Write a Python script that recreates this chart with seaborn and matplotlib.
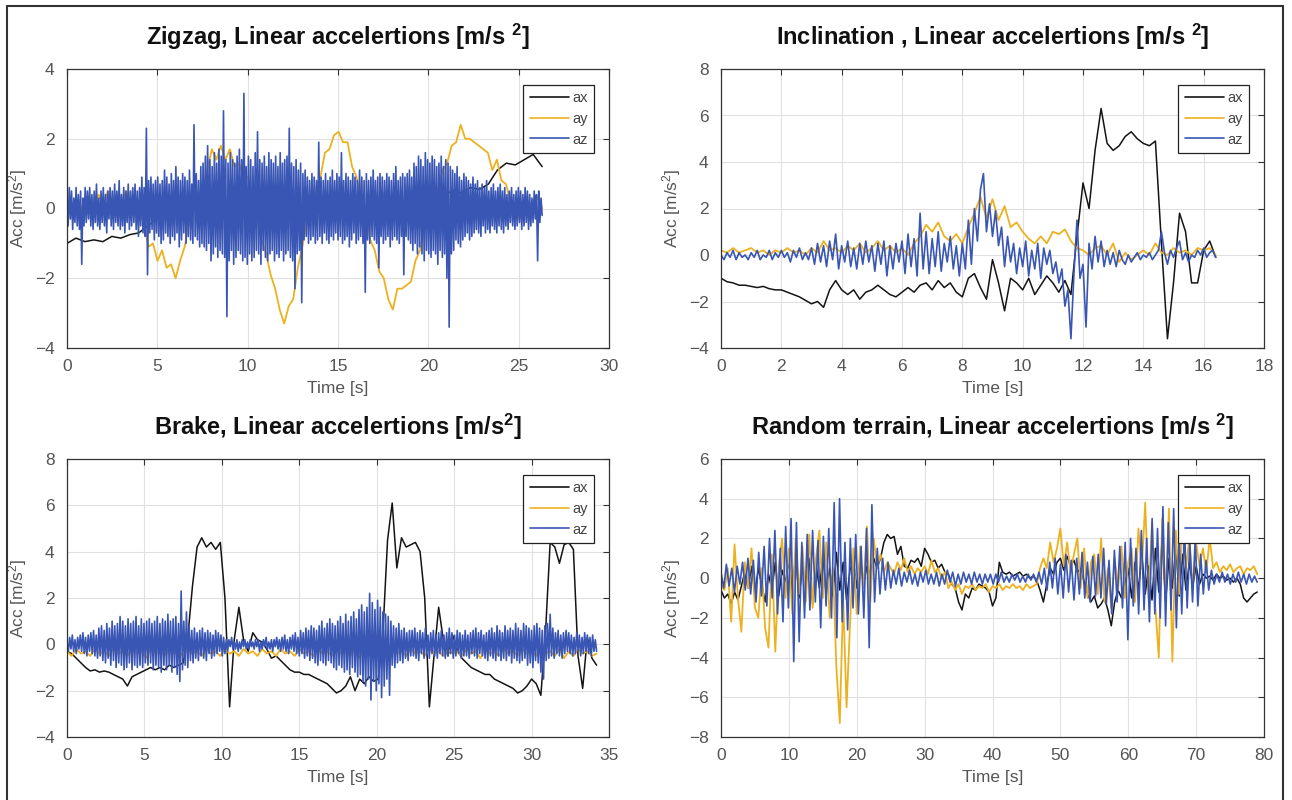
import numpy as np
import pandas as pd
import matplotlib
matplotlib.use('Agg')
import matplotlib.pyplot as plt
from matplotlib.lines import Line2D
import seaborn as sns

sns.set_style('white')
plt.rcParams['font.family'] = ['Liberation Sans', 'DejaVu Sans']
plt.rcParams['mathtext.default'] = 'regular'

# ---------------- Zigzag (0 - 26.3 s)
zig_T = 26.3
zig_ax = [-1.0, -0.85, -0.95, -0.9, -0.95, -0.8, -0.85, -0.75, -0.7, -0.5,
          -0.3, -0.25, -0.2, -0.1, -0.1, 0.0, 0.0, 0.1, 0.0, 0.1,
          0.0, 0.0, 0.1, 0.0, -0.1, 0.0, 0.1, 0.0, 0.0, 0.1,
          0.0, 0.0, -0.1, 0.0, 0.1, 0.0, 0.0, 0.1, 0.0, 0.1,
          0.2, 0.3, 0.4, 0.5, 0.45, 0.6, 0.55, 0.7, 1.1, 1.3,
          1.25, 1.4, 1.55, 1.2]
zig_ay = [0.2, 0.0, 0.3, -0.1, 0.3, 0.0, 0.2, 0.4,
          0.0, 0.5, 0.0, 0.4, 0.1, 0.5, 0.0, 0.3,
          -0.2, -0.4, -1.1, -1.0, -1.5, -1.2, -1.7, -1.6,
          -2.0, -1.5, -1.1, -0.4, -0.1, 0.4, 0.4, 1.1,
          1.7, 1.4, 1.8, 1.4, 1.7, 1.2, 1.3, 0.9,
          0.9, 0.2, -0.1, -0.9, -1.3, -1.9, -2.3, -2.9,
          -3.3, -2.8, -2.6, -1.7, -1.1, -0.4, -0.1, 0.6,
          0.9, 1.6, 1.7, 2.1, 2.2, 1.9, 1.9, 1.2,
          0.9, 0.2, -0.1, -0.9, -1.2, -1.8, -2.0, -2.6,
          -2.9, -2.3, -2.3, -2.2, -2.1, -1.5, -1.2, -0.4,
          -0.1, 0.5, 0.5, 1.1, 1.3, 1.8, 1.9, 2.4,
          2.0, 2.0, 1.9, 1.8, 1.7, 1.6, 1.1, 1.4,
          0.8, 0.7, 0.2, 0.1, -0.3, 0.0, 0.1, 0.1,
          0.3, 0.0]
zig_az = [0.4, -0.5, 0.6, -0.3, 0.5, -0.6, 0.3, -0.4, 0.6, -0.5, 0.4, -0.6, 0.5, -1.6, 0.3, -0.5, 0.6, -0.4, 0.5, -0.3,
          0.6, -0.5, 0.4, -0.6, 0.5, -0.4, 0.7, -0.5, 0.3, -0.6, 0.5, -0.4, 0.6, -0.5, 0.4, -0.7, 0.5, -0.3, 0.6, -0.5,
          0.5, -0.6, 0.7, -0.4, 0.5, -0.5, 0.8, -0.6, 0.4, -0.5, 0.6, -0.7, 0.5, -0.4, 0.7, -0.6, 0.5, -0.5, 0.6, -0.4,
          0.7, -0.6, 0.5, -0.8, 0.6, -0.5, 0.9, -0.7, 0.6, -0.8, 2.3, -1.9, 0.8, -0.7, 0.9, -0.6, 0.7, -0.9, 0.8, -0.7,
          0.9, -0.8, 0.7, -1.0, 0.8, -0.9, 1.1, -0.7, 0.9, -0.8, 0.7, -1.0, 1.0, -0.8, 0.8, -0.9, 1.2, -0.7, 0.9, -1.1,
          0.8, -0.9, 1.0, -0.7, 0.9, -1.0, 0.8, -0.8, 1.1, -0.9, 0.7, -1.0, 2.4, -0.8, 1.0, -0.9, 0.8, -1.1, 1.2, -1.0,
          1.3, -1.1, 1.5, -1.2, 1.8, -1.0, 1.4, -1.5, 1.2, -1.3, 1.6, -1.1, 1.3, -1.4, 1.7, -1.2, 1.5, -1.3, 2.8, -1.4,
          1.4, -3.1, 1.3, -1.5, 1.6, -1.2, 1.4, -1.6, 1.3, -1.4, 1.5, -1.2, 1.7, -1.3, 1.4, -1.5, 3.3, -1.4, 1.2, -1.6,
          1.5, -1.3, 1.4, -1.5, 1.2, -1.4, 1.6, -1.2, 2.2, -1.3, 1.4, -1.6, 1.3, -1.2, 1.5, -1.4, 1.2, -1.5, 1.6, -1.3,
          1.4, -1.2, 1.3, -1.5, 1.5, -1.3, 1.2, -1.4, 1.6, -1.2, 1.3, -1.5, 1.4, -1.3, 1.5, -1.2, 2.3, -1.4, 1.3, -1.5,
          1.2, -2.3, 1.4, -1.3, 1.1, -1.2, 1.3, -2.7, 1.0, -0.9, 1.1, -0.8, 0.9, -1.0, 0.8, -0.9, 1.0, -0.8, 0.9, -1.0,
          0.8, -0.9, 1.9, -0.8, 0.9, -1.0, 0.8, -0.7, 1.0, -0.9, 0.8, -1.0, 0.9, -0.8, 1.1, -0.9, 0.8, -0.7, 1.0, -0.9,
          0.9, -0.8, 1.6, -1.0, 0.8, -0.9, 1.0, -0.8, 0.9, -1.1, 0.8, -0.9, 1.0, -0.7, 0.9, -1.0, 0.8, -0.9, 1.1, -0.8,
          0.9, -1.0, 0.8, -2.4, 1.0, -0.9, 0.8, -1.0, 0.9, -0.8, 1.1, -0.9, 0.8, -1.0, 0.9, -1.7, 1.0, -0.8, 0.9, -1.0,
          0.8, -0.9, 1.0, -0.8, 0.9, -1.1, 0.8, -0.9, 1.0, -0.8, 1.2, -0.9, 0.8, -1.0, 0.9, -0.8, 1.0, -1.9, 0.9, -0.8,
          1.0, -0.9, 1.1, -1.0, 0.9, -1.2, 1.3, -1.0, 1.2, -1.3, 1.5, -1.1, 1.4, -1.3, 1.2, -1.5, 1.6, -1.2, 1.4, -1.3,
          1.3, -1.4, 1.5, -1.2, 1.4, -1.3, 1.2, -1.6, 1.3, -1.2, 1.5, -1.4, 1.2, -1.3, 1.4, -2.0, 1.3, -3.4, 1.2, -1.3,
          1.1, -1.2, 1.0, -0.9, 1.2, -1.0, 0.9, -1.1, 0.8, -0.9, 1.0, -0.8, 0.9, -0.7, 0.8, -0.9, 0.7, -0.8, 0.9, -0.7,
          0.7, -0.6, 0.8, -0.7, 0.6, -0.8, 0.7, -0.5, 0.6, -0.7, 0.8, -0.6, 0.5, -0.7, 0.6, -0.5, 0.7, -0.6, 0.5, -0.7,
          0.6, -0.5, 0.7, -0.6, 0.5, -0.7, 0.6, -0.5, 0.4, -0.6, 0.5, -0.4, 0.6, -0.5, 0.4, -0.6, 0.5, -0.5, 0.6, -0.4,
          0.5, -0.6, 0.4, -0.5, 0.6, -0.4, 0.5, -0.6, 0.4, -0.5, 0.3, -0.4, 0.5, -0.3, 0.4, -1.5, 0.5, -0.4, 0.3, -0.2]

# ---------------- Inclination (0 - 16.4 s)
inc_T = 16.4
inc_ax = [-1.0, -1.15, -1.2, -1.3, -1.3, -1.35, -1.4, -1.35, -1.45, -1.5,
          -1.5, -1.6, -1.7, -1.8, -1.95, -2.1, -2.0, -2.25, -1.5, -1.1,
          -1.5, -1.7, -1.5, -1.9, -1.6, -1.5, -1.3, -1.5, -1.7, -1.8,
          -1.6, -1.4, -1.6, -1.3, -1.2, -1.5, -1.1, -1.4, -1.2, -1.6,
          -1.8, -1.0, -0.8, -1.4, -1.9, -0.2, -1.2, -2.4, -1.0, -1.2,
          -1.5, -1.0, -1.7, -1.3, -0.9, -1.2, -1.6, -1.1, -1.7, 0.8,
          3.1, 2.0, 4.5, 6.3, 4.8, 4.5, 4.7, 5.1, 5.3, 5.0,
          4.8, 4.7, 4.9, 0.5, -3.6, -1.2, 1.8, 1.0, -1.2, -1.2,
          0.2, 0.6, -0.1]
inc_ay = [0.2, 0.1, 0.3, 0.1, 0.2, 0.3, 0.1, 0.2, 0.0, 0.2,
          0.1, 0.3, 0.1, 0.2, 0.0, 0.3, 0.1, 0.6, 0.2, 0.3,
          0.1, 0.4, 0.2, 0.5, 0.1, 0.3, 0.6, 0.2, 0.4, 0.1,
          0.3, 0.0, 0.5, 0.8, 1.3, 1.0, 1.4, 0.8, 0.6, 0.9,
          0.5, 1.2, 1.8, 2.5, 1.6, 2.4, 1.5, 2.1, 1.2, 1.4,
          1.0, 0.7, 0.5, 0.8, 0.5, 1.0, 0.9, 1.1, 0.6, 0.3,
          0.2, 0.0, 0.3, 0.4, 0.0, 0.5, -0.3, 0.1, -0.2, 0.0,
          0.2, 0.0, 0.5, 0.1, 0.0, 0.3, 0.1, 0.2, 0.0, 0.3,
          0.2, 0.3, 0.0]
inc_az = [0.0, -0.2, 0.1, -0.1, 0.2, -0.2, 0.1, -0.1, 0.0, -0.2,
          0.1, -0.1, 0.2, -0.2, 0.0, -0.1, 0.2, -0.2, 0.1, -0.1,
          0.2, -0.1, 0.1, -0.3, 0.2, -0.1, 0.3, -0.2, 0.1, -0.2,
          0.3, -0.4, 0.5, -0.3, 0.4, -0.5, 0.6, -0.2, 0.9, -0.6,
          0.4, -0.3, 0.6, -0.5, 0.3, -0.6, 0.5, -0.4, 0.6, -0.3,
          0.4, -0.7, 0.5, -0.4, 0.6, -0.9, 0.4, -0.6, 0.5, -0.3,
          0.6, -0.8, 0.9, -0.5, 0.7, -0.9, 1.8, -0.6, 1.0, -0.8,
          0.7, -0.5, 1.0, -0.7, 0.5, -0.3, 0.8, -0.6, 0.4, -0.9,
          0.5, -0.6, 1.5, -0.4, 2.0, 0.6, 2.8, 3.5, 1.0, 2.2,
          0.8, 1.9, 0.4, 1.2, -0.5, 0.8, -0.3, 0.5, -0.8, 0.3,
          -0.5, 0.6, -0.9, 0.2, -0.6, 0.5, -1.0, 0.3, -0.4, 0.2,
          -0.8, -0.3, -1.2, -0.6, -2.2, -1.5, -3.6, -0.8, 1.5, -1.0,
          -0.4, -3.1, 0.5, -0.6, 0.8, -0.3, 0.6, -0.5, 0.2, -0.4,
          0.1, -0.5, 0.2, -0.2, -0.4, 0.0, -0.3, -0.1, 0.1, -0.2,
          0.0, -0.1, 0.1, -0.2, 0.0, 0.2, 1.0, 0.1, -0.4, 0.2,
          -0.1, 0.3, 0.6, -0.2, 0.1, -0.3, 0.0, -0.1, 0.2, 0.0,
          0.3, -0.1, 0.1, 0.2, -0.1]

# ---------------- Brake (0 - 34.2 s)
brk_T = 34.2
brk_ax = [-0.3, -0.4, -0.6, -0.8, -1.0, -1.15, -1.1, -1.2, -1.15, -1.2,
          -1.3, -1.4, -1.5, -1.8, -1.4, -1.3, -1.2, -1.1, -1.0, -1.1,
          -1.0, -1.1, -0.9, -1.0, -0.9, -0.8, 0.3, 2.5, 4.2, 4.6,
          4.2, 4.4, 4.1, 4.4, 2.0, -2.7, 0.2, 1.6, 0.2, -0.3,
          0.5, 0.2, 0.1, -0.2, -0.6, -0.5, -0.7, -0.9, -1.1, -1.2,
          -1.2, -1.3, -1.3, -1.4, -1.5, -1.6, -1.7, -1.9, -2.1, -2.0,
          -1.8, -1.4, -2.0, -1.5, -1.7, -1.4, -1.6, -1.5, 0.5, 4.5,
          6.1, 3.3, 4.6, 4.2, 4.3, 4.4, 4.0, 2.0, -2.7, -0.5,
          1.6, 0.2, -0.5, 0.4, -0.2, -0.6, -0.8, -1.0, -1.1, -1.2,
          -1.3, -1.3, -1.5, -1.6, -1.7, -1.8, -1.9, -2.1, -2.0, -1.8,
          -1.5, -1.7, -2.2, 0.5, 4.4, 4.2, 3.5, 4.3, 4.4, 4.1,
          -0.5, -1.9, 0.3, -0.6, -0.9]
brk_ay = [-0.3, -0.5, -0.2, -0.4, -0.3, -0.5, -0.2, -0.4, -0.3, -0.5,
          -0.2, -0.4, -0.3, -0.5, -0.2, -0.4, -0.3, -0.6, -0.2, -0.4,
          -0.3, -0.5, -0.2, -0.4, -0.3, -0.5, -0.2, -0.4, -0.3, -0.5,
          -0.2, -0.4, -0.3, -0.5, -0.2, -0.4, -0.3, -0.5, -0.2, -0.4,
          -0.3, -0.5, -0.2, -0.4, -0.3, -0.5, -0.2, -0.4, -0.3, -0.5,
          -0.2, -0.4, -0.3, -0.5, -0.2, -0.4, -0.3, -0.5, -0.2, -0.4,
          -0.3, -0.5, -0.2, -0.6, -0.1, -0.5, -0.2, -0.4, -0.3, -0.5,
          -0.2, -0.4, -0.3, -0.5, -0.2, -0.4, -0.3, -0.5, -0.2, -0.4,
          -0.3, -0.5, -0.2, -0.4, -0.3, -0.5, -0.2, -0.4, -0.3, -0.6,
          -0.2, -0.4, -0.3, -0.5, -0.2, -0.4, -0.3, -0.5, -0.2, -0.4,
          -0.3, -0.5, -0.2, -0.4, -0.3, -0.5, -0.2, -0.6, -0.3, -0.5,
          -0.2, -0.4, -0.3, -0.5, -0.4]
brk_az = [0.1, -0.3, 0.3, -0.2, 0.4, -0.3, 0.2, -0.4, 0.3, -0.2, 0.4, -0.3, 0.5, -0.4, 0.3, -0.5, 0.4, -0.3, 0.5, -0.4,
          0.6, -0.5, 0.4, -0.6, 0.7, -0.5, 0.8, -0.7, 0.6, -0.8, 0.9, -0.6, 0.7, -0.9, 1.0, -0.7, 0.8, -1.0, 0.9, -0.8,
          1.2, -0.9, 1.0, -1.1, 0.8, -1.0, 1.1, -0.8, 0.9, -1.1, 1.0, -0.9, 1.2, -1.0, 0.8, -0.9, 1.1, -1.0, 0.9, -0.8,
          1.0, -0.9, 1.1, -0.8, 0.9, -1.1, 1.0, -0.9, 1.2, -1.0, 0.9, -1.2, 1.1, -0.9, 1.0, -1.1, 1.3, -0.9, 1.0, -1.2,
          1.1, -1.0, 1.2, -1.3, 0.9, -1.6, 2.3, -1.1, 1.0, -0.9, 1.4, -1.0, 0.8, -0.7, 0.6, -0.8, 0.7, -0.6, 0.5, -0.7,
          0.6, -0.5, 0.7, -0.6, 0.5, -0.7, 0.6, -0.4, 0.5, -0.6, 0.4, -0.5, 0.6, -0.4, 0.5, -0.3, 0.4, -0.5, 0.3, -0.4,
          0.2, -0.3, 0.2, -0.1, 0.3, -0.2, 0.1, -0.2, 0.2, -0.3, 0.1, -0.2, 0.2, -0.1, 0.2, -0.2, 0.1, -0.2, 0.2, -0.1,
          0.1, -0.2, 0.2, -0.1, 0.2, -0.3, 0.1, -0.2, 0.2, -0.1, 0.3, -0.2, 0.1, -0.2, 0.2, -0.3, 0.2, -0.1, 0.3, -0.2,
          0.2, -0.3, 0.3, -0.2, 0.4, -0.3, 0.2, -0.4, 0.3, -0.2, 0.4, -0.3, 0.5, -0.4, 0.3, -0.5, 0.6, -0.4, 0.5, -0.6,
          0.7, -0.5, 0.6, -0.7, 0.8, -0.6, 0.7, -0.8, 0.6, -0.9, 0.8, -0.7, 1.0, -0.8, 0.7, -0.9, 0.9, -0.7, 1.1, -0.8,
          0.9, -1.0, 0.8, -1.1, 1.0, -0.9, 1.2, -1.0, 0.9, -1.2, 1.3, -1.1, 1.0, -1.3, 1.2, -1.0, 1.4, -1.2, 1.1, -1.4,
          1.5, -1.3, 1.7, -1.6, 1.4, -1.8, 1.6, -1.5, 2.2, -2.4, 1.8, -1.6, 1.5, -2.0, 1.9, -1.7, 1.6, -2.3, 1.4, -1.8,
          1.3, -1.5, 1.2, -2.2, 1.0, -0.9, 0.8, -1.0, 0.7, -0.8, 0.9, -0.7, 0.6, -0.8, 0.7, -0.6, 0.5, -0.7, 0.6, -0.5,
          0.6, -0.5, 0.7, -0.6, 0.5, -0.7, 0.6, -0.4, 0.5, -0.6, 0.7, -0.5, 0.4, -0.6, 0.5, -0.4, 0.6, -0.5, 0.4, -0.6,
          0.5, -0.4, 0.6, -0.5, 0.4, -0.6, 0.5, -0.5, 0.7, -0.4, 0.5, -0.6, 0.4, -0.5, 0.6, -0.4, 0.5, -0.6, 0.4, -0.5,
          0.6, -0.5, 0.4, -0.6, 0.5, -0.4, 0.6, -0.5, 0.7, -0.6, 0.5, -0.4, 0.6, -0.5, 0.4, -0.6, 0.5, -0.7, 0.6, -0.5,
          0.7, -0.6, 0.5, -0.7, 0.8, -0.5, 0.6, -0.7, 0.5, -0.6, 0.8, -0.7, 0.6, -0.5, 0.7, -0.8, 0.6, -0.6, 0.9, -0.7,
          0.7, -0.8, 0.6, -0.7, 0.9, -0.6, 0.8, -0.9, 0.7, -0.8, 0.6, -1.0, 0.8, -0.7, 0.9, -0.8, 0.7, -1.2, 0.6, -1.5,
          0.8, -0.7, 0.9, -0.6, 1.3, -0.5, 0.7, -0.6, 0.5, -0.4, 0.6, -0.5, 0.4, -0.6, 0.5, -0.4, 0.6, -0.3, 0.5, -0.4,
          0.4, -0.5, 0.3, -0.4, 0.5, -0.3, 0.4, -0.5, 0.3, -0.4, 0.5, -0.3, 0.4, -0.4, 0.3, -0.5, 0.4, -0.3, 0.2, -0.3]

# ---------------- Random terrain (0 - 79 s)
rnd_T = 79.0
rnd_ax = [-0.6, -1.0, -0.8, -1.3, -0.7, -1.1, -0.4, 0.3, -0.5, 0.6, -0.8, 0.5, -0.3, -1.2, 0.2, -0.6, 0.8, -0.9, 0.4, -0.2,
          0.9, -0.7, 1.2, -1.0, 0.6, -0.4, 1.0, -1.3, 0.7, -0.5, 1.1, -0.8, 0.5, -0.9, 1.3, -0.6, 0.8, -1.1, 0.4, 0.9,
          -0.5, 1.0, -0.3, 0.6, 0.2, 1.0, 0.5, 1.0, 1.8, 2.2, 2.0, 2.1, 1.2, 1.6, 0.6, 0.5, 0.9, 0.8, 1.0, 0.6,
          1.5, 1.2, 0.8, 0.9, 0.5, 0.7, 0.3, 0.2, -0.3, -0.5, -1.2, -1.6, -0.8, -1.0, -0.5, -0.6, -0.3, -0.4, -0.5, -0.7,
          -1.4, -1.0, 0.8, 0.3, 0.2, 0.3, 0.1, 0.2, 0.3, 0.1, 0.2, 0.0, 0.1, -0.1, -0.6, -1.2, -0.3, 0.5, 0.2, 0.8,
          1.0, 0.4, 1.1, 0.6, 0.9, 0.3, 0.5, -0.2, -0.8, -1.2, -0.9, -1.5, -1.3, -1.0, -1.6, -2.4, -1.2, -0.6, -1.0, -0.3,
          0.5, -1.0, 0.8, -0.6, 1.2, -0.8, 0.6, -1.1, 1.5, -0.7, 2.0, -1.2, 1.0, -0.5, 1.6, -0.9, 1.2, -0.6, 0.8, -0.4,
          0.6, -0.3, 0.2, 0.0, 0.1, -0.1, 0.2, 0.0, 0.1, -0.1, 0.0, -0.2, 0.0, -0.3, -1.0, -1.2, -1.0, -0.8, -0.7]
rnd_ay = [-0.3, -0.6, 0.5, -2.2, 1.7, -1.0, -2.7, 0.8, -0.5, 1.5, -1.5, -2.0, 0.5, -2.5, -3.5, 1.2, -3.7, 0.6, 2.0, -1.0,
          1.5, -1.8, 2.0, -0.8, 1.6, -1.2, 2.2, -1.5, 1.0, 2.4, -1.0, 1.8, -2.0, 0.5, -4.5, -7.3, -1.0, -6.5, -2.4, 1.5,
          -1.8, 1.6, -0.5, 2.6, -1.2, 2.0, 0.5, 1.2, 0.3, 0.8, 0.5, 0.2, 0.8, 0.4, 1.0, 0.3, 0.6, 0.2, 0.5, 0.3,
          0.6, 0.2, 0.9, 0.3, 0.5, 0.0, 0.3, -0.5, -0.2, -0.6, -0.3, -0.8, -0.4, -0.5, -0.3, -0.6, -0.4, -0.5, -0.3, -0.7,
          -0.4, -0.5, -0.3, -0.6, -0.4, -0.5, -0.3, -0.5, -0.4, -0.6, -0.3, -0.5, -0.4, -0.3, 0.5, 1.0, 0.5, 1.8, 0.8, 1.5,
          2.5, 0.6, 1.8, 0.3, 1.2, 2.0, -0.5, 1.5, -1.0, 0.8, 1.2, -0.8, 2.0, -1.2, 0.5, -1.5, 1.0, -0.6, 1.6, -1.0,
          0.8, 1.5, -1.2, 2.5, 0.5, 3.8, -1.0, 2.8, -1.5, -4.0, 3.0, -1.0, 3.5, -4.2, 2.4, -0.8, 3.0, 0.5, 2.0, -0.5,
          1.8, 0.6, 1.5, 0.3, 2.0, 0.5, 0.8, 0.3, 0.6, 0.4, 0.7, 0.3, 0.5, 0.6, 0.2, 0.5, 0.4, 0.6, 0.2]
rnd_az = [0.3, -0.5, 0.7, -0.4, 0.5, -0.7, 0.6, -0.3, 0.8, -0.6, 1.0, -0.8, 0.9, -1.2, 1.3, -0.9, 1.6, -1.4, 2.0, -1.0,
          2.4, -1.8, 1.5, -2.2, 2.6, -1.5, 3.0, -4.2, 2.8, -3.2, 1.8, -2.0, 2.2, -1.6, 2.4, -1.2, 1.9, -2.5, 2.1, -1.4,
          2.5, -2.0, 3.8, -3.0, 4.0, -2.2, 1.8, -2.6, 2.0, -1.5, 2.2, -1.8, 1.6, -2.0, 2.5, -3.5, 3.7, -1.2, 1.5, -0.8,
          1.0, -0.6, 0.8, -0.5, 0.4, -0.3, 0.5, -0.4, 0.3, -0.2, 0.4, -0.3, 0.2, -0.4, 0.3, -0.2, 0.4, -0.3, 0.2, -0.3,
          0.3, -0.4, 0.2, -0.3, 0.4, -0.2, 0.3, -0.4, 0.2, -0.3, 0.3, -0.2, 0.2, -0.3, 0.3, -0.2, 0.2, -0.3, 0.2, -0.2,
          0.2, -0.3, 0.2, -0.2, 0.3, -0.2, 0.1, -0.2, 0.2, -0.1, 0.2, -0.2, 0.1, -0.2, 0.2, -0.1, 0.2, -0.2, 0.3, -0.3,
          0.5, -0.6, 0.8, -0.5, 1.0, -0.8, 0.7, -1.0, 1.2, -0.7, 0.9, -1.1, 1.0, -0.8, 1.3, -1.0, 0.8, -1.2, 1.1, -0.9,
          1.2, -1.0, 1.5, -1.3, 0.9, -1.8, 1.4, -1.2, 1.6, -1.5, 1.8, -3.1, 2.0, -1.4, 1.5, -1.8, 2.4, -1.6, 2.0, -2.2,
          3.0, -1.8, 2.5, -2.0, 3.6, -2.4, 2.8, -1.6, 3.5, -2.5, 2.2, -1.8, 2.6, -1.5, 1.8, -1.2, 2.0, -1.4, 1.2, -0.8,
          0.9, -0.6, 0.4, -0.3, 0.2, -0.2, 0.3, -0.2, 0.2, -0.3, 0.2, -0.2, 0.3, -0.2, 0.2, -0.3, 0.2, -0.2, 0.1, -0.2]

names = ['ax', 'ay', 'az']
colors = {'ax': '#141414', 'ay': '#EDB120', 'az': '#3A56B4'}
widths = {'ax': 1.1, 'ay': 1.3, 'az': 1.2}

panels = [
    ('Zigzag, Linear accelertions [m/s $^{2}$]', zig_T, [zig_ax, zig_ay, zig_az],
     (0, 30, 5), (-4, 4, 2)),
    ('Inclination , Linear accelertions [m/s $^{2}$]', inc_T, [inc_ax, inc_ay, inc_az],
     (0, 18, 2), (-4, 8, 2)),
    ('Brake, Linear accelertions [m/s$^{2}$]', brk_T, [brk_ax, brk_ay, brk_az],
     (0, 35, 5), (-4, 8, 2)),
    ('Random terrain, Linear accelertions [m/s $^{2}$]', rnd_T, [rnd_ax, rnd_ay, rnd_az],
     (0, 80, 10), (-8, 6, 2)),
]

W, H = 1292, 800
fig = plt.figure(figsize=(W / 100, H / 100), dpi=100)

# axes boxes in pixels: left, top, right, bottom
boxes = [(67, 69, 609, 348), (721, 69, 1264, 348),
         (67, 459, 609, 737), (721, 459, 1264, 737)]

tick_col = '#555555'

for (title, T, series, xr, yr), (l, t, r, b) in zip(panels, boxes):
    ax = fig.add_axes([l / W, 1 - b / H, (r - l) / W, (b - t) / H])
    for name, vals in zip(names, series):
        df = pd.DataFrame({'t': np.linspace(0, T, len(vals)), 'acc': vals})
        sns.lineplot(data=df, x='t', y='acc', color=colors[name], estimator=None,
                     sort=False, lw=widths[name], ax=ax)

    ax.set_xlim(xr[0], xr[1])
    ax.set_ylim(yr[0], yr[1])
    ax.set_xticks(np.arange(xr[0], xr[1] + 0.1, xr[2]))
    ax.set_yticks(np.arange(yr[0], yr[1] + 0.1, yr[2]))
    ax.grid(True, color='#e0e0e0', lw=0.8)
    ax.set_axisbelow(True)
    ax.tick_params(direction='in', top=True, right=True, length=4,
                   labelsize=12.5, colors='#333333', labelcolor=tick_col)
    ax.tick_params(axis='x', pad=8)
    ax.tick_params(axis='y', pad=9)
    for s in ax.spines.values():
        s.set_color('#333333')
        s.set_linewidth(0.9)
    ax.set_xlabel('Time [s]', fontsize=12.5, color=tick_col, labelpad=5)
    ax.set_ylabel('Acc [m/s$^{2}$]', fontsize=12.5, color=tick_col, labelpad=4)
    ax.set_title(title, fontsize=17, fontweight='bold', color='#111111', pad=17)

    handles = [Line2D([], [], color=colors[n], lw=1.2) for n in names]
    leg = ax.legend(handles, names, loc='upper right', bbox_to_anchor=(0.973, 0.943),
                    frameon=True, fancybox=False, framealpha=1, edgecolor='#222222',
                    fontsize=10.5, handlelength=2.7, handletextpad=0.2,
                    borderpad=0.45, labelspacing=0.45, borderaxespad=0)
    leg.get_frame().set_linewidth(0.9)
    for txt in leg.get_texts():
        txt.set_color('#444444')

# outer frame lines (left, top, right)
fig.add_artist(Line2D([7 / W, 7 / W], [0, 1 - 6 / H], color='#333333', lw=1.5))
fig.add_artist(Line2D([7 / W, 1283 / W], [1 - 6 / H, 1 - 6 / H], color='#333333', lw=1.5))
fig.add_artist(Line2D([1283 / W, 1283 / W], [0, 1 - 6 / H], color='#333333', lw=1.5))

fig.savefig('out.png', dpi=100, facecolor='white')
